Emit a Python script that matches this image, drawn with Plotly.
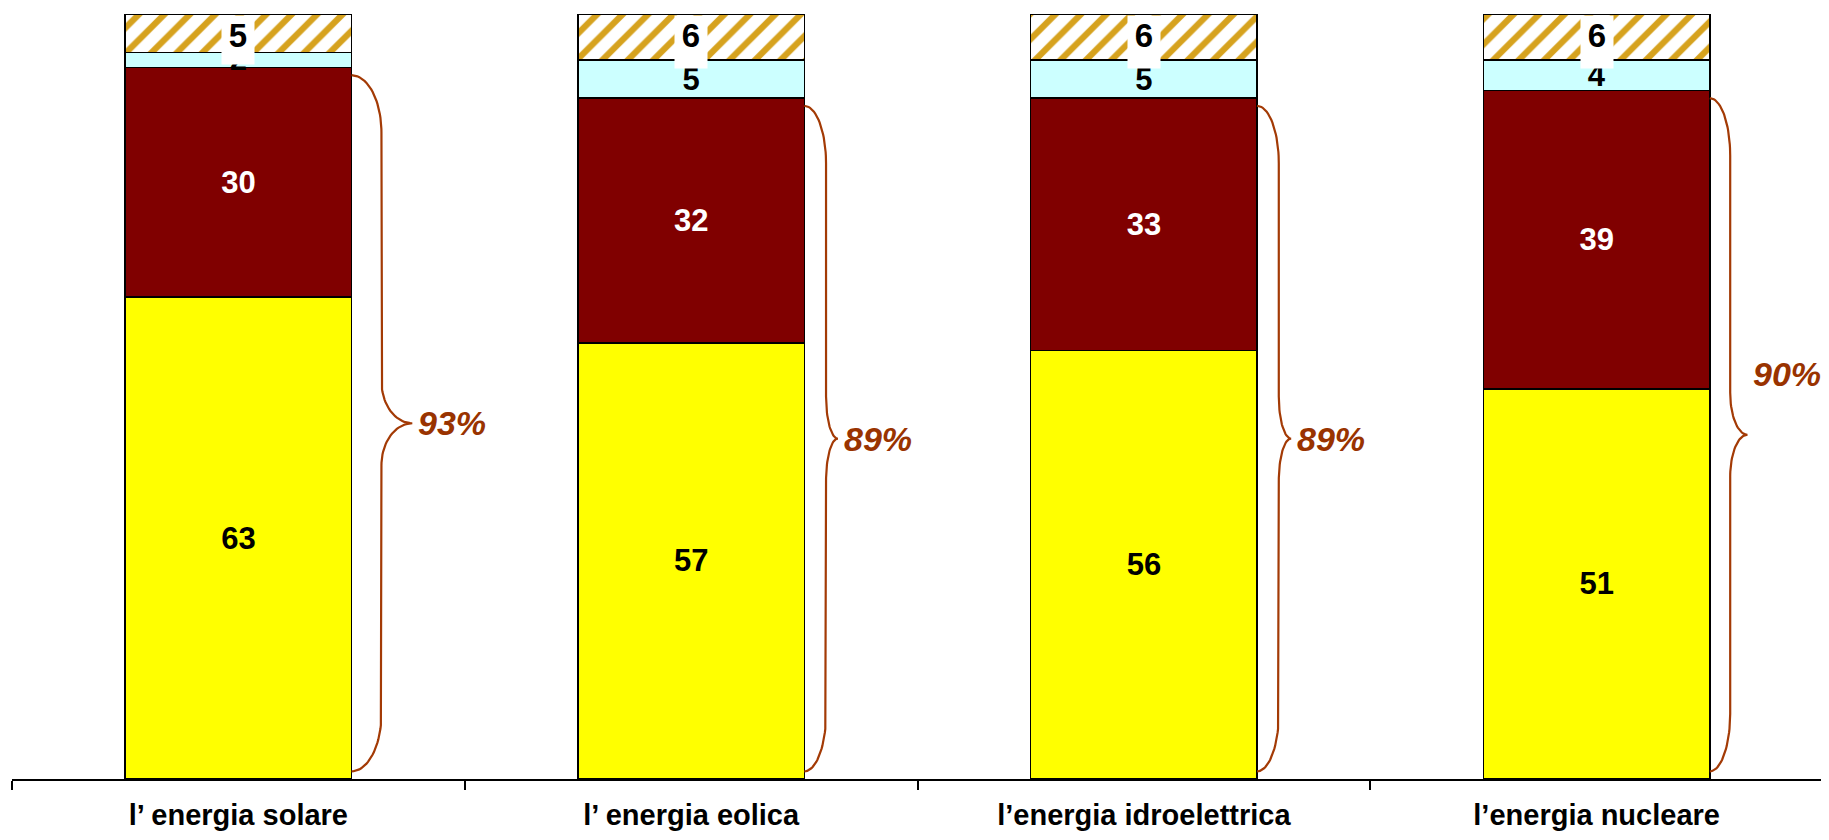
import numpy as np
import plotly.graph_objects as go

categories = ["l’ energia solare", "l’ energia eolica", "l’energia idroelettrica", "l’energia nucleare"]
molto = [63, 57, 56, 51]          # yellow
abbastanza = [30, 32, 33, 39]     # dark red
poco = [2, 5, 5, 4]               # light cyan
non_sa = [5, 6, 6, 6]             # hatched

# brace styling (per bar, in category units / value units)
brace_depth = [0.066, 0.048, 0.048, 0.045]
brace_tip = [0.134, 0.074, 0.075, 0.083]
label_dy = [0, 0, 0, 8]

FONT = "Arial, Liberation Sans, sans-serif"
BROWN = "#A33A05"
xs = np.arange(len(categories))
BW = 0.5

# page body has an 8px margin; size figure so the plot lands where the reference has it
W, H = 1821, 832
M = dict(l=4, r=6, t=6, b=61)
px_per_unit = (H - M["t"] - M["b"]) / 100.0

fig = go.Figure()

def seg(vals, color, txtcolor, name, pattern=None, show_text=True):
    marker = dict(color=color, line=dict(color="black", width=1.5))
    if pattern:
        marker["pattern"] = pattern
    fig.add_trace(go.Bar(
        x=xs, y=vals, width=BW, name=name, marker=marker,
        text=[str(v) for v in vals] if show_text else None,
        textposition="inside" if show_text else "none",
        insidetextanchor="middle", textangle=0, constraintext="none",
        textfont=dict(family=FONT, size=31, color=txtcolor, weight="bold"),
        hoverinfo="skip",
    ))

seg(molto, "#FFFF00", "black", "molto")
seg(abbastanza, "#800000", "white", "abbastanza")
seg(poco, "#CCFFFF", "black", "poco")
seg(non_sa, "white", "black", "non sa",
    pattern=dict(shape="/", fgcolor="#D6A21E", bgcolor="white", size=18, solidity=0.35, fillmode="replace"),
    show_text=False)

totals = [a + b + c + d for a, b, c, d in zip(molto, abbastanza, poco, non_sa)]
annotations = []
for i in range(len(categories)):
    half_seg = non_sa[i] * px_per_unit / 2
    annotations.append(dict(
        x=xs[i], y=totals[i], xref="x", yref="y", yanchor="top", yshift=-1,
        text=f"<b>{non_sa[i]}</b>", showarrow=False, bgcolor="white",
        width=30, height=half_seg + 27, borderpad=1, valign="top",
        font=dict(family=FONT, size=33, color="black"),
    ))

# braces
for i in range(len(categories)):
    s = molto[i] + abbastanza[i]
    xe = xs[i] + BW / 2
    xv = xe + brace_depth[i]
    xt = xe + brace_tip[i]
    yt, yb, ym = s - 1, 1, s / 2
    r_end, r_tip = 7.5, 5.5
    t = np.linspace(0, np.pi / 2, 25)
    x1 = xe + (xv - xe) * np.sin(t)
    y1 = yt - r_end * (1 - np.cos(t))
    x2 = xv + (xt - xv) * (1 - np.cos(t))
    y2 = ym + r_tip * (1 - np.sin(t))
    x3 = xv + (xt - xv) * (1 - np.cos(t[::-1]))
    y3 = ym - r_tip * (1 - np.sin(t[::-1]))
    x4 = xe + (xv - xe) * np.sin(t[::-1])
    y4 = yb + r_end * (1 - np.cos(t[::-1]))
    bx = np.concatenate([x1, x2, x3, x4])
    by = np.concatenate([y1, y2, y3, y4])
    fig.add_trace(go.Scatter(x=bx, y=by, mode="lines", line=dict(color=BROWN, width=2.2),
                             hoverinfo="skip", showlegend=False))
    annotations.append(dict(
        x=xt, y=ym + label_dy[i], xref="x", yref="y", xanchor="left", yanchor="middle",
        xshift=4, text=f"<b><i>{s}%</i></b>", showarrow=False,
        font=dict(family=FONT, size=34, color="#993300"),
    ))

fig.update_layout(
    barmode="stack",
    showlegend=False,
    width=W, height=H,
    margin=M,
    plot_bgcolor="white", paper_bgcolor="white",
    annotations=annotations,
    uniformtext=dict(mode="show", minsize=31),
    xaxis=dict(
        range=[-0.5, 3.5], tickmode="array", tickvals=list(xs), ticktext=[f"<b>{c}</b>" for c in categories],
        ticks="outside", ticklen=9, tickcolor="rgba(0,0,0,0)",
        tickfont=dict(family=FONT, size=29, color="black"),
        showline=True, linecolor="black", linewidth=2, showgrid=False, zeroline=False,
        minor=dict(tickmode="array", tickvals=[i - 0.5 for i in range(len(categories) + 1)],
                   ticks="outside", ticklen=9, tickcolor="black", tickwidth=1.5),
        fixedrange=True,
    ),
    yaxis=dict(range=[0, 100], visible=False, fixedrange=True),
)

fig.write_html("out.html")
